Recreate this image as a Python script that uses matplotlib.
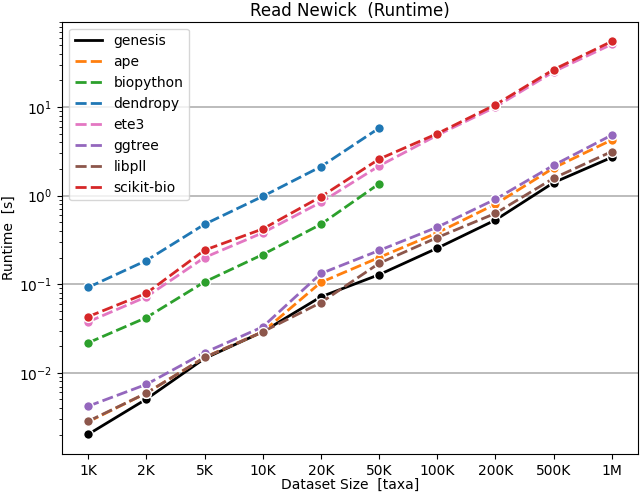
import matplotlib
matplotlib.use("Agg")
import matplotlib.pyplot as plt
from matplotlib.lines import Line2D
import numpy as np

sizes = ['1K', '2K', '5K', '10K', '20K', '50K', '100K', '200K', '500K', '1M']

genesis = [0.00202, 0.00505, 0.0145, 0.029, 0.072, 0.128, 0.255, 0.53, 1.40, 2.70]
ape = [0.0028, 0.0059, 0.0149, 0.029, 0.105, 0.200, 0.38, 0.80, 2.05, 4.25]
biopython = [0.0218, 0.042, 0.106, 0.216, 0.474, 1.36]
dendropy = [0.092, 0.185, 0.474, 0.98, 2.12, 5.77]
ete3 = [0.0376, 0.072, 0.20, 0.38, 0.84, 2.16, 4.8, 10.0, 25.0, 51.0]
ggtree = [0.0042, 0.0074, 0.0169, 0.033, 0.132, 0.24, 0.44, 0.91, 2.2, 4.82]
libpll = [0.00284, 0.0059, 0.0149, 0.029, 0.062, 0.172, 0.336, 0.63, 1.57, 3.14]
scikit_bio = [0.043, 0.079, 0.242, 0.42, 0.97, 2.58, 5.0, 10.6, 26.4, 55.0]

series = [
    ('genesis', genesis, 'black', '-'),
    ('ape', ape, '#ff7f0e', '--'),
    ('biopython', biopython, '#2ca02c', '--'),
    ('dendropy', dendropy, '#1f77b4', '--'),
    ('ete3', ete3, '#e377c2', '--'),
    ('ggtree', ggtree, '#9467bd', '--'),
    ('libpll', libpll, '#8c564b', '--'),
    ('scikit-bio', scikit_bio, '#d62728', '--'),
]

fig = plt.figure(figsize=(6.4, 4.94), dpi=100)
ax = fig.add_axes([62/640, 1 - 454/494, (638 - 62)/640, (454 - 21.7)/494])

handles = []
for name, vals, color, ls in series:
    x = np.arange(len(vals))
    kw = dict(color=color, lw=2, marker='o', markersize=7,
              markeredgecolor='white', markeredgewidth=1)
    if ls == '--':
        ax.plot(x, vals, dashes=(4, 1.5), **kw)
        h = Line2D([], [], color=color, lw=2, dashes=(4, 1.5))
    else:
        ax.plot(x, vals, **kw)
        h = Line2D([], [], color=color, lw=2)
    handles.append((h, name))

ax.set_yscale('log')
ax.set_xticks(np.arange(len(sizes)))
ax.set_xticklabels(sizes)
ax.set_xlim(-0.45, 9.45)
ax.yaxis.grid(True, which='major', color='#b0b0b0', lw=1.2)
ax.set_axisbelow(True)
ax.set_xlabel('Dataset Size  [taxa]', labelpad=0)
ax.set_ylabel('Runtime  [s]', labelpad=2)
ax.set_title('Read Newick  (Runtime)', fontsize=12, pad=4)
ax.legend([h for h, _ in handles], [n for _, n in handles], loc='upper left')

fig.savefig('out.png', dpi=100)
